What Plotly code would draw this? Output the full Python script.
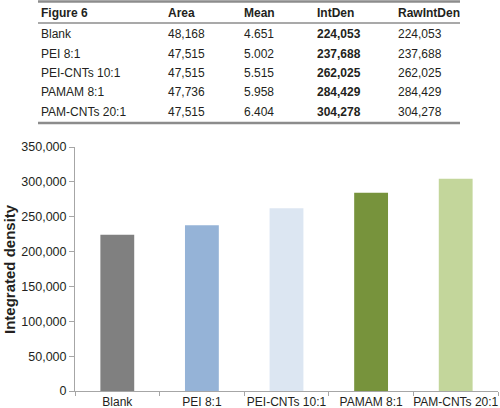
import plotly.graph_objects as go

# ---- data ----
categories = ["Blank", "PEI 8:1", "PEI-CNTs 10:1", "PAMAM 8:1", "PAM-CNTs 20:1"]
area = ["48,168", "47,515", "47,515", "47,736", "47,515"]
mean = ["4.651", "5.002", "5.515", "5.958", "6.404"]
intden = [224053, 237688, 262025, 284429, 304278]
rawintden = [224053, 237688, 262025, 284429, 304278]
headers = ["Figure 6", "Area", "Mean", "IntDen", "RawIntDen"]
y_ticks = [0, 50000, 100000, 150000, 200000, 250000, 300000, 350000]
bar_colors = ["#808080", "#95B3D7", "#DCE6F2", "#77933C", "#C3D69B"]

W, H = 500, 408
L, R, T, B = 75, 2, 147, 17
PW, PH = W - L - R, H - T - B

def px(x):
    return (x - L) / PW

def py(y):
    return (H - B - y) / PH

fig = go.Figure()
fig.add_trace(go.Bar(
    x=categories, y=intden, marker=dict(color=bar_colors, line=dict(width=0)),
    width=0.4, showlegend=False, hoverinfo="x+y"))

TXT = "#231f20"
FONT = "Liberation Sans, Arial, sans-serif"
col_x = [39, 166, 242, 315, 396]
row_y = [12.5, 33.5, 53.5, 73, 92.5, 112]

ann = []
for j, h in enumerate(headers):
    ann.append(dict(x=px(col_x[j]), y=py(row_y[0]), text=f"<b>{h}</b>"))
for i, c in enumerate(categories):
    vals = [c, area[i], mean[i], f"<b>{intden[i]:,}</b>", f"{rawintden[i]:,}"]
    for j, v in enumerate(vals):
        ann.append(dict(x=px(col_x[j]), y=py(row_y[i + 1]), text=v))
annotations = []
for a in ann:
    a.update(xref="paper", yref="paper", xanchor="left", yanchor="middle",
             showarrow=False, font=dict(family=FONT, size=12, color=TXT))
    annotations.append(a)

annotations.append(dict(
    x=px(9), y=py(269), xref="paper", yref="paper", text="<b>Integrated density</b>",
    textangle=-90, showarrow=False, xanchor="center", yanchor="middle",
    font=dict(family=FONT, size=15, color=TXT)))

shapes = [
    dict(type="line", xref="paper", yref="paper", x0=px(38), x1=px(460),
         y0=py(1.5), y1=py(1.5), line=dict(color="#8c8c8c", width=2.5)),
    dict(type="line", xref="paper", yref="paper", x0=px(38), x1=px(460),
         y0=py(23), y1=py(23), line=dict(color="#8c8c8c", width=1.5)),
    dict(type="line", xref="paper", yref="paper", x0=px(38), x1=px(460),
         y0=py(123), y1=py(123), line=dict(color="#8c8c8c", width=2.5)),
]

fig.update_layout(
    width=W, height=H, margin=dict(l=L, r=R, t=T, b=B, autoexpand=False),
    paper_bgcolor="white", plot_bgcolor="white",
    font=dict(family=FONT, size=12, color=TXT),
    annotations=annotations, shapes=shapes, bargap=0.6,
    xaxis=dict(showline=True, linecolor="#a6a6a6", linewidth=1, ticks="outside",
               tickson="boundaries", ticklen=4, tickcolor="#a6a6a6", tickangle=0,
               automargin=False, ticklabelstandoff=0,
               tickfont=dict(family=FONT, size=12, color=TXT), showgrid=False,
               fixedrange=True),
    yaxis=dict(range=[0, 350000], tickvals=y_ticks, tickformat=",", automargin=False,
               showline=True, linecolor="#a6a6a6", linewidth=1, ticks="outside",
               ticklen=5, tickcolor="#a6a6a6", showgrid=False, zeroline=False,
               tickfont=dict(family=FONT, size=12.5, color=TXT), fixedrange=True),
)

fig.write_html("out.html", config={"displayModeBar": False},
               post_script="document.body.style.margin='0';document.body.style.padding='0';")
